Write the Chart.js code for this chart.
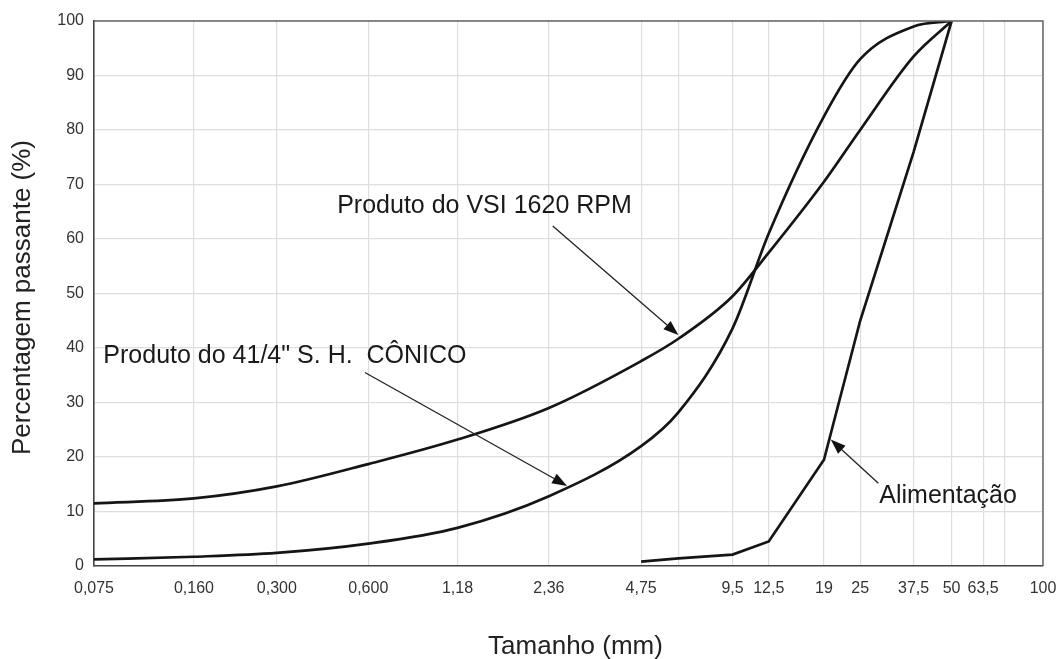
<!DOCTYPE html>
<html lang="pt">
<head>
<meta charset="utf-8">
<title>Curvas granulométricas</title>
<script src="https://cdn.jsdelivr.net/npm/chart.js@4.4.0/dist/chart.umd.min.js"></script>
<style>
  html, body { margin: 0; padding: 0; background: #ffffff; }
  #wrap { width: 1062px; height: 659px; }
</style>
</head>
<body>
<div id="wrap"><canvas id="curvas" width="1062" height="659"></canvas></div>
<script>
// Peneiras (mm) usadas no eixo das abscissas e seus rótulos
const peneiras = [0.075, 0.16, 0.3, 0.6, 1.18, 2.36, 4.75, 6.3, 9.5, 12.5, 19, 25, 37.5, 50, 63.5, 75, 100];
const rotulosPeneiras = ['0,075', '0,160', '0,300', '0,600', '1,18', '2,36', '4,75', '', '9,5', '12,5', '19', '25', '37,5', '50', '63,5', '', '100'];
const rotulosY = [0, 10, 20, 30, 40, 50, 60, 70, 80, 90, 100];

// Produto do VSI 1620 RPM — % passante por peneira
const vsiAberturas = [0.075, 0.16, 0.3, 0.6, 1.18, 2.36, 4.75, 6.3, 9.5, 12.5, 19, 25, 37.5, 50];
const vsiPassante  = [11.5, 12.4, 14.6, 18.7, 23.2, 29.0, 37.6, 41.7, 49.5, 57.5, 70.5, 80.0, 93.5, 100];

// Produto do rebritador cônico 4 1/4" S.H.
const conicoAberturas = [0.075, 0.16, 0.3, 0.6, 1.18, 2.36, 4.75, 6.3, 9.5, 12.5, 19, 25, 37.5, 50];
const conicoPassante  = [1.2, 1.7, 2.4, 4.1, 7.0, 12.8, 22.0, 28.2, 43.6, 61.0, 82.5, 93.0, 99.0, 100];

// Alimentação
const alimAberturas = [4.75, 6.3, 9.5, 12.5, 19, 25, 37.5, 50];
const alimPassante  = [0.8, 1.4, 2.1, 4.5, 19.5, 45.0, 76.0, 100];

const pares = (xs, ys) => xs.map((x, i) => ({ x: x, y: ys[i] }));

// Chamadas de texto com seta (coordenadas em mm e % passante)
const chamadas = [
  { texto: 'Produto do VSI 1620 RPM', em: [0.474, 64.8], de: [2.43, 62.4], para: [6.3, 42.4] },
  { texto: 'Produto do 41/4" S. H.  CÔNICO', em: [0.0805, 37.2], de: [0.585, 35.5], para: [2.71, 14.7] },
  { texto: 'Alimentação', em: [28.9, 11.5], de: [28.7, 15.2], para: [20.0, 23.2] }
];

const FONTE = '"Liberation Sans", Arial, Helvetica, sans-serif';

function seta(ctx, x0, y0, x1, y1) {
  const ang = Math.atan2(y1 - y0, x1 - x0);
  const comp = 15, meia = 5.5;
  const bx = x1 - comp * Math.cos(ang), by = y1 - comp * Math.sin(ang);
  ctx.beginPath();
  ctx.moveTo(x0, y0);
  ctx.lineTo(bx, by);
  ctx.lineWidth = 1.3;
  ctx.strokeStyle = '#222';
  ctx.stroke();
  ctx.beginPath();
  ctx.moveTo(x1, y1);
  ctx.lineTo(bx + meia * Math.sin(ang), by - meia * Math.cos(ang));
  ctx.lineTo(bx - meia * Math.sin(ang), by + meia * Math.cos(ang));
  ctx.closePath();
  ctx.fillStyle = '#111';
  ctx.fill();
}

const moldura = {
  id: 'moldura',
  afterDraw(chart) {
    const { ctx, chartArea: a, scales } = chart;
    const sx = scales.x, sy = scales.y;
    ctx.save();
    // contorno superior e direito da área do gráfico
    ctx.strokeStyle = '#666';
    ctx.lineWidth = 1.5;
    ctx.beginPath();
    ctx.moveTo(a.left, a.top);
    ctx.lineTo(a.right, a.top);
    ctx.lineTo(a.right, a.bottom);
    ctx.stroke();

    // chamadas
    ctx.font = '25px ' + FONTE;
    ctx.textAlign = 'left';
    ctx.textBaseline = 'alphabetic';
    chamadas.forEach(c => {
      ctx.fillStyle = '#1a1a1a';
      ctx.fillText(c.texto, sx.getPixelForValue(c.em[0]), sy.getPixelForValue(c.em[1]));
      seta(ctx,
        sx.getPixelForValue(c.de[0]), sy.getPixelForValue(c.de[1]),
        sx.getPixelForValue(c.para[0]), sy.getPixelForValue(c.para[1]));
    });

    // títulos dos eixos
    ctx.fillStyle = '#222';
    ctx.font = '26px ' + FONTE;
    ctx.textAlign = 'center';
    ctx.textBaseline = 'alphabetic';
    ctx.fillText('Tamanho (mm)', (a.left + a.right) / 2 + 7, 654);
    ctx.translate(30, (a.top + a.bottom) / 2 + 4);
    ctx.rotate(-Math.PI / 2);
    ctx.fillText('Percentagem passante (%)', 0, 0);
    ctx.restore();
  }
};

const estiloLinha = {
  borderColor: '#151515',
  borderWidth: 2.7,
  pointRadius: 0,
  fill: false,
  cubicInterpolationMode: 'monotone'
};

new Chart(document.getElementById('curvas'), {
  type: 'line',
  data: {
    datasets: [
      Object.assign({ label: 'Produto do VSI 1620 RPM', data: pares(vsiAberturas, vsiPassante) }, estiloLinha),
      Object.assign({ label: 'Produto do 41/4" S. H. CÔNICO', data: pares(conicoAberturas, conicoPassante) }, estiloLinha),
      Object.assign({ label: 'Alimentação', data: pares(alimAberturas, alimPassante) }, estiloLinha, { cubicInterpolationMode: 'default', tension: 0 })
    ]
  },
  options: {
    responsive: false,
    animation: false,
    devicePixelRatio: 1,
    layout: { padding: { left: 0, top: 21, right: 19, bottom: 0 } },
    plugins: { legend: { display: false }, tooltip: { enabled: false } },
    scales: {
      x: {
        type: 'logarithmic',
        min: peneiras[0],
        max: peneiras[peneiras.length - 1],
        afterBuildTicks(scale) { scale.ticks = peneiras.map(v => ({ value: v })); },
        afterFit(scale) { scale.height = 93; scale.paddingLeft = 0; scale.paddingRight = 0; },
        grid: { color: '#dedede', lineWidth: 1.2, drawTicks: false },
        border: { color: '#444', width: 1.6 },
        ticks: {
          autoSkip: false,
          maxRotation: 0,
          minRotation: 0,
          padding: 13,
          color: '#333',
          font: { family: FONTE, size: 16 },
          callback: (v, i) => rotulosPeneiras[i]
        }
      },
      y: {
        type: 'linear',
        min: 0,
        max: 100,
        afterBuildTicks(scale) { scale.ticks = rotulosY.map(v => ({ value: v })); },
        afterFit(scale) { scale.width = 94; scale.paddingTop = 0; scale.paddingBottom = 0; },
        grid: { color: '#dedede', lineWidth: 1.2, drawTicks: false },
        border: { color: '#444', width: 1.6 },
        ticks: {
          padding: 10,
          color: '#333',
          font: { family: FONTE, size: 16 },
          callback: v => String(v)
        }
      }
    }
  },
  plugins: [moldura]
});
</script>
</body>
</html>
